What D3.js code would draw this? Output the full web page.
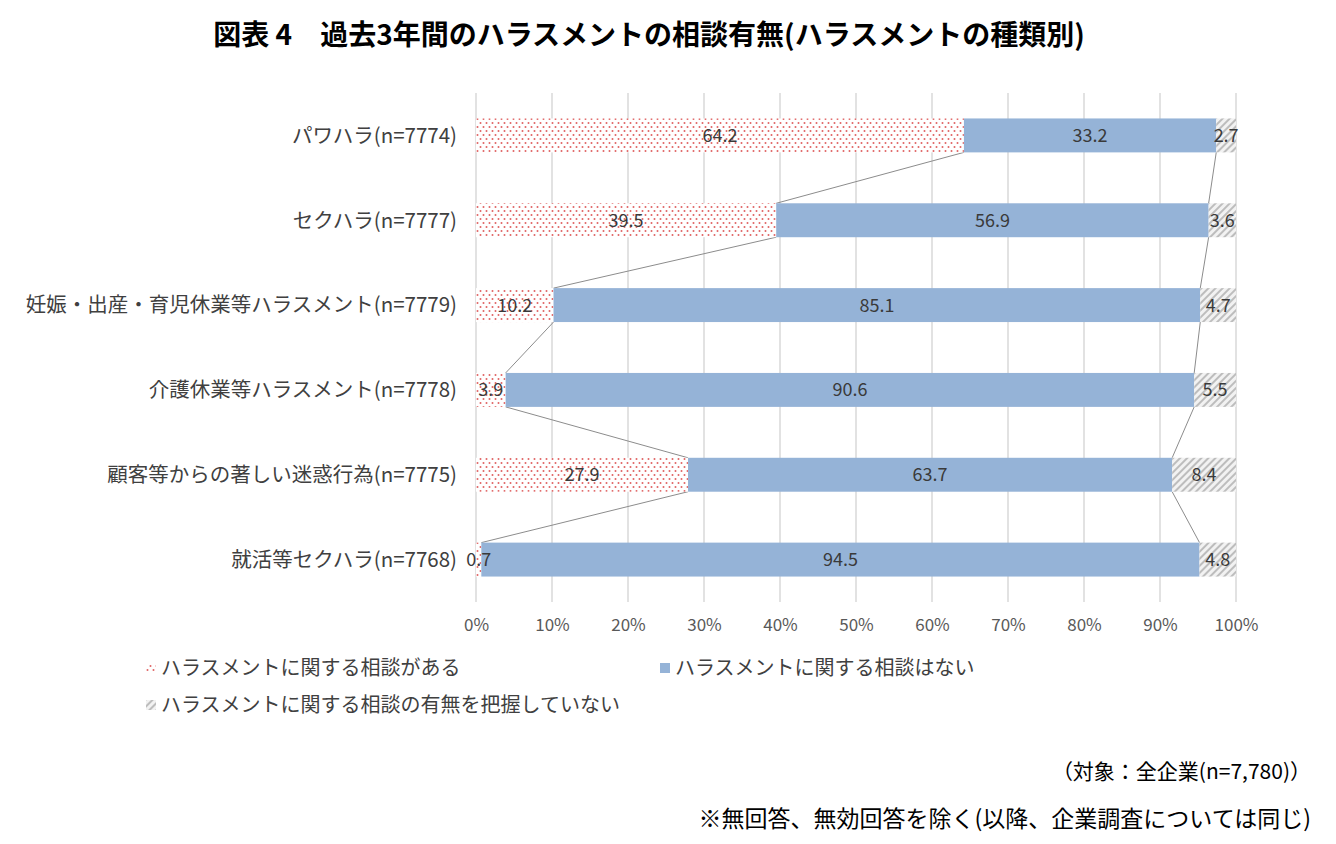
<!DOCTYPE html>
<html>
<head>
<meta charset="utf-8">
<script src="https://cdn.jsdelivr.net/npm/d3@7"></script>
<style>
  body { margin: 0; background: #fff; }
  text { font-family: "Noto Sans CJK JP", "Noto Sans", sans-serif; }
</style>
</head>
<body>
<svg id="chart" width="1336" height="844"></svg>
<script>
// カテゴリと各系列の値（％）
const categories = [
    "パワハラ(n=7774)",
    "セクハラ(n=7777)",
    "妊娠・出産・育児休業等ハラスメント(n=7779)",
    "介護休業等ハラスメント(n=7778)",
    "顧客等からの著しい迷惑行為(n=7775)",
    "就活等セクハラ(n=7768)"
];
const seriesNames = [
    "ハラスメントに関する相談がある",
    "ハラスメントに関する相談はない",
    "ハラスメントに関する相談の有無を把握していない"
];
const consultYes = [64.2, 39.5, 10.2, 3.9, 27.9, 0.7];
const consultNo = [33.2, 56.9, 85.1, 90.6, 63.7, 94.5];
const unknown = [2.7, 3.6, 4.7, 5.5, 8.4, 4.8];
const xTicks = [0, 10, 20, 30, 40, 50, 60, 70, 80, 90, 100];

const svg = d3.select("#chart");
const margin = { top: 93, left: 476, right: 100, bottom: 242 };
const width = 1336 - margin.left - margin.right;
const height = 844 - margin.top - margin.bottom;

// パターン定義
const defs = svg.append("defs");
const dots = defs.append("pattern")
    .attr("id", "dots")
    .attr("patternUnits", "userSpaceOnUse")
    .attr("width", 6).attr("height", 8);
dots.append("rect").attr("width", 6).attr("height", 8).attr("fill", "#fff");
dots.append("circle").attr("cx", 1.5).attr("cy", 2).attr("r", 1).attr("fill", "#e06363");
dots.append("circle").attr("cx", 4.5).attr("cy", 6).attr("r", 1).attr("fill", "#e06363");

const hatch = defs.append("pattern")
    .attr("id", "hatch")
    .attr("patternUnits", "userSpaceOnUse")
    .attr("width", 5).attr("height", 5)
    .attr("patternTransform", "rotate(45)");
hatch.append("rect").attr("width", 5).attr("height", 5).attr("fill", "#f2f2f2");
hatch.append("rect").attr("width", 2).attr("height", 5).attr("fill", "#bdbdbd");

const fills = ["url(#dots)", "#95b3d7", "url(#hatch)"];

const chart = svg.append("g")
    .attr("transform", `translate(${margin.left},${margin.top})`);

const xScale = d3.scaleLinear().domain([0, 100]).range([0, width]);
const yScale = d3.scaleBand()
    .domain(categories)
    .range([0, height])
    .paddingInner(0.6)
    .paddingOuter(0.3);

// 縦グリッド
chart.append("g")
    .selectAll("line")
    .data(xTicks)
    .join("line")
    .attr("x1", d => xScale(d)).attr("x2", d => xScale(d))
    .attr("y1", 0).attr("y2", height)
    .attr("stroke", "#d9d9d9")
    .attr("stroke-width", 1.5);

// 積み上げデータ
const rows = categories.map((c, i) => ({ cat: c, v: [consultYes[i], consultNo[i], unknown[i]] }));
const stacked = rows.map(r => {
    let acc = 0;
    return r.v.map((v, k) => {
        const s = { cat: r.cat, k: k, x0: acc, x1: Math.min(100, acc + v), v: v };
        acc += v;
        return s;
    });
});

// 系列線
const bw = yScale.bandwidth();
const linkData = [];
for (let i = 0; i < rows.length - 1; i++) {
    for (let k = 0; k < 2; k++) {
        linkData.push({
            xa: stacked[i][k].x1, ya: yScale(categories[i]) + bw,
            xb: stacked[i + 1][k].x1, yb: yScale(categories[i + 1])
        });
    }
}
chart.append("g")
    .selectAll("line")
    .data(linkData)
    .join("line")
    .attr("x1", d => xScale(d.xa)).attr("y1", d => d.ya)
    .attr("x2", d => xScale(d.xb)).attr("y2", d => d.yb)
    .attr("stroke", "#8c8c8c")
    .attr("stroke-width", 1);

const seg = stacked.flat();
chart.append("g")
    .selectAll("rect")
    .data(seg)
    .join("rect")
    .attr("x", d => xScale(d.x0))
    .attr("y", d => yScale(d.cat))
    .attr("width", d => xScale(d.x1) - xScale(d.x0))
    .attr("height", bw)
    .attr("fill", d => fills[d.k]);

// データラベル
chart.append("g")
    .selectAll("text")
    .data(seg)
    .join("text")
    .attr("x", d => xScale((d.x0 + d.x1) / 2))
    .attr("y", d => yScale(d.cat) + bw / 2)
    .attr("dy", "0.36em")
    .attr("text-anchor", "middle")
    .attr("font-size", 18)
    .attr("fill", "#3a3a3a")
    .text(d => d.v.toFixed(1));

// カテゴリラベル
chart.append("g")
    .selectAll("text")
    .data(categories)
    .join("text")
    .attr("x", -19)
    .attr("y", d => yScale(d) + bw / 2)
    .attr("dy", "0.36em")
    .attr("text-anchor", "end")
    .attr("font-size", 20.5)
    .attr("fill", "#404040")
    .text(d => d);

// x軸
const xAxis = chart.append("g")
    .attr("transform", `translate(0,${height})`)
    .call(d3.axisBottom(xScale).tickValues(xTicks).tickFormat(d => d + "%").tickSize(0).tickPadding(17));
xAxis.select(".domain").remove();
xAxis.selectAll("text")
    .attr("font-size", 17)
    .attr("fill", "#595959")
    .style("font-family", '"Noto Sans CJK JP", sans-serif');

// タイトル
svg.append("text")
    .attr("x", 649)
    .attr("y", 45)
    .attr("text-anchor", "middle")
    .attr("font-size", 28)
    .attr("font-weight", "bold")
    .attr("fill", "#000")
    .text("図表 4　過去3年間のハラスメントの相談有無(ハラスメントの種類別)");

// 凡例
const legendPos = [[146, 668], [660, 668], [146, 705]];
const legend = svg.append("g")
    .selectAll("g")
    .data(seriesNames)
    .join("g")
    .attr("transform", (d, i) => `translate(${legendPos[i][0]},${legendPos[i][1]})`);
legend.append("rect")
    .attr("x", 0).attr("y", -5)
    .attr("width", 10).attr("height", 10)
    .attr("fill", (d, i) => fills[i]);
legend.append("text")
    .attr("x", 15)
    .attr("dy", "0.36em")
    .attr("font-size", 20)
    .attr("fill", "#404040")
    .text(d => d);

// 注記
svg.append("text")
    .attr("x", 1311).attr("y", 779)
    .attr("text-anchor", "end")
    .attr("font-size", 21)
    .attr("fill", "#000")
    .text("（対象：全企業(n=7,780)）");
svg.append("text")
    .attr("x", 1311).attr("y", 827)
    .attr("text-anchor", "end")
    .attr("font-size", 23)
    .attr("fill", "#000")
    .text("※無回答、無効回答を除く(以降、企業調査については同じ)");
</script>
</body>
</html>
